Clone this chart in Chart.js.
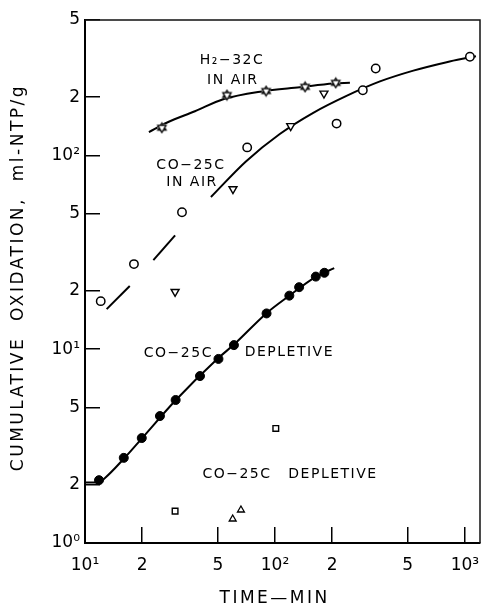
<!DOCTYPE html>
<html><head><meta charset="utf-8">
<script src="https://cdn.jsdelivr.net/npm/chart.js@4.4.1/dist/chart.umd.min.js"></script>
<style>html,body{margin:0;padding:0;background:#fff}canvas{display:block}</style>
</head><body>
<canvas id="c" width="486" height="607"></canvas>
<script>
// ---- tick values and labels ----
const xTicks = [10, 20, 50, 100, 200, 500, 1000];
const xTickLabels = ['10¹', '2', '5', '10²', '2', '5', '10³'];
const yTicks = [1, 2, 5, 10, 20, 50, 100, 200, 500];
const yTickLabels = ['10⁰', '2', '5', '10¹', '2', '5', '10²', '2', '5'];

// ---- CO-25C depletive (filled circles) ----
const depX = [11.85, 16.0, 19.9, 24.8, 30.0, 40.3, 50.4, 60.8, 90.3, 119, 134, 164, 182];
const depY = [2.11, 2.75, 3.48, 4.52, 5.47, 7.27, 8.91, 10.5, 15.3, 18.9, 20.9, 23.7, 24.8];
const depFitX = [10, 11.7, 12.7, 16, 20, 30, 50, 61, 90, 120, 160, 205];
const depFitY = [2.05, 2.05, 2.16, 2.72, 3.48, 5.45, 8.95, 10.6, 15.3, 19.0, 23.3, 26.2];

// ---- CO-25C depletive (open squares, open up-triangles) ----
const depSqX = [29.8, 101];
const depSqY = [1.46, 3.9];
const depTriX = [59.9, 66.2];
const depTriY = [1.33, 1.48];

// ---- CO-25C in air (open circles, open down-triangles) ----
const airCircX = [12.1, 18.1, 32.4, 71.4, 211, 290, 339, 1062];
const airCircY = [17.7, 27.5, 50.9, 110, 146, 217, 281, 323];
const airTriX = [29.8, 60.1, 121, 181];
const airTriY = [19.8, 67.1, 142, 209];
const airSeg1X = [13.0, 17.2];
const airSeg1Y = [16.1, 21.2];
const airSeg2X = [22.9, 29.8];
const airSeg2Y = [28.8, 38.7];
const airFitX = [46.0, 70.3, 106, 159, 238, 357, 535, 801, 1000, 1143];
const airFitY = [61.0, 93.1, 129, 166, 203, 241, 274, 303, 317, 325];

// ---- H2-32C in air (stars) ----
const h2X = [25.4, 55.9, 89.8, 144, 209];
const h2Y = [139, 205, 215, 226, 237];
const h2FitX = [21.7, 26.9, 37.9, 53.4, 85.1, 135, 203, 248];
const h2FitY = [132, 147.5, 169, 195, 214, 225, 235, 237];

// ---- annotation texts (anchored in data coordinates) ----
const noteText = ['H₂−32C', 'IN AIR', 'CO−25C', 'IN AIR', 'CO−25C', 'DEPLETIVE', 'CO−25C', 'DEPLETIVE'];
const noteX = [59.4, 60.0, 36.1, 36.6, 31.0, 119, 63.1, 202];
const noteY = [311, 245, 89.2, 72.9, 9.55, 9.67, 2.27, 2.27];

const pts = (xs, ys) => xs.map((x, i) => ({x: x, y: ys[i]}));
const FONT = '"DejaVu Sans", "Liberation Sans", Arial, sans-serif';

// hexagram marker
function makeStar() {
  const c = document.createElement('canvas');
  c.width = 13; c.height = 13;
  const g = c.getContext('2d');
  const cx = 6.5, cy = 6.5, r = 4.8;
  g.fillStyle = '#fff';
  g.strokeStyle = '#000';
  g.lineWidth = 1.3;
  g.beginPath(); g.arc(cx, cy, r * 0.9, 0, Math.PI * 2); g.fill();
  [[-90, 30, 150], [90, 210, 330]].forEach(a => {
    g.beginPath();
    a.forEach((d, i) => {
      const t = d * Math.PI / 180;
      const px = cx + r * Math.cos(t), py = cy + r * Math.sin(t);
      if (i === 0) g.moveTo(px, py); else g.lineTo(px, py);
    });
    g.closePath(); g.fill(); g.stroke();
  });
  return c;
}
const starImg = makeStar();

const curve = (data, extra) => Object.assign({
  data: data, showLine: true, pointRadius: 0, borderColor: '#000',
  borderWidth: 2, fill: false, order: 5
}, extra || {});

const datasets = [
  {data: pts(depX, depY), pointStyle: 'circle', pointRadius: 4.5, pointBackgroundColor: '#000', pointBorderColor: '#000', pointBorderWidth: 1, order: 1},
  {data: pts(depSqX, depSqY), pointStyle: 'rect', pointRadius: 4, pointBackgroundColor: '#fff', pointBorderColor: '#000', pointBorderWidth: 1.4, order: 1},
  {data: pts(depTriX, depTriY), pointStyle: 'triangle', pointRadius: 4, pointBackgroundColor: '#fff', pointBorderColor: '#000', pointBorderWidth: 1.3, order: 1},
  {data: pts(airCircX, airCircY), pointStyle: 'circle', pointRadius: 4.2, pointBackgroundColor: '#fff', pointBorderColor: '#000', pointBorderWidth: 1.5, order: 1},
  {data: pts(airTriX, airTriY), pointStyle: 'triangle', pointRotation: 180, pointRadius: 4.6, pointBackgroundColor: '#fff', pointBorderColor: '#000', pointBorderWidth: 1.4, order: 1},
  {data: pts(h2X, h2Y), pointStyle: starImg, pointRadius: 5, order: 1},
  curve(pts(depFitX, depFitY), {cubicInterpolationMode: 'monotone'}),
  curve(pts(airSeg1X, airSeg1Y)),
  curve(pts(airSeg2X, airSeg2Y)),
  curve(pts(airFitX, airFitY), {cubicInterpolationMode: 'monotone'}),
  curve(pts(h2FitX, h2FitY), {cubicInterpolationMode: 'monotone'})
];

// letter-spaced axis titles
function spaceTitle(s) {
  if (s._spaced) return;
  const orig = s.drawTitle;
  s.drawTitle = function () {
    const c = this.ctx;
    c.save();
    c.letterSpacing = '2.5px';
    orig.apply(this, arguments);
    c.restore();
  };
  s._spaced = true;
}

const notePlugin = {
  id: 'notes',
  afterDatasetsDraw(chart) {
    const ctx = chart.ctx, sx = chart.scales.x, sy = chart.scales.y, a = chart.chartArea;
    ctx.save();
    ctx.strokeStyle = '#111';
    ctx.lineWidth = 1.5;
    ctx.beginPath();
    ctx.moveTo(a.left, a.top);
    ctx.lineTo(a.right, a.top);
    ctx.lineTo(a.right, a.bottom);
    ctx.stroke();
    ctx.letterSpacing = '1.5px';
    ctx.font = '14px ' + FONT;
    ctx.fillStyle = '#000';
    ctx.textAlign = 'center';
    ctx.textBaseline = 'middle';
    noteText.forEach((t, i) => {
      ctx.fillText(t, sx.getPixelForValue(noteX[i]), sy.getPixelForValue(noteY[i]));
    });
    ctx.restore();
  }
};

new Chart(document.getElementById('c'), {
  type: 'scatter',
  data: {datasets: datasets},
  plugins: [notePlugin],
  options: {
    responsive: false,
    animation: false,
    devicePixelRatio: 1,
    events: [],
    layout: {padding: {top: 20, right: 6, left: 0, bottom: 0}},
    plugins: {legend: {display: false}, tooltip: {enabled: false}},
    scales: {
      x: {
        type: 'logarithmic', position: 'bottom', min: 10, max: 1200,
        afterBuildTicks: s => { s.ticks = xTicks.map(v => ({value: v})); },
        afterFit: s => { s.height = 64; s.paddingLeft = 0; s.paddingRight = 0; spaceTitle(s); },
        ticks: {
          autoSkip: false, maxRotation: 0, minRotation: 0, padding: 28, color: '#000',
          font: {family: FONT, size: 17},
          callback: v => xTickLabels[xTicks.indexOf(v)]
        },
        grid: {drawOnChartArea: false, drawTicks: true, tickLength: -16, color: '#000', lineWidth: 1.5},
        border: {display: true, color: '#000', width: 2},
        title: {display: true, text: 'TIME—MIN  ', color: '#000', font: {family: FONT, size: 17, lineHeight: 1}, padding: {top: 0, bottom: 0}}
      },
      y: {
        type: 'logarithmic', position: 'left', min: 1, max: 500,
        afterBuildTicks: s => { s.ticks = yTicks.map(v => ({value: v})); },
        afterFit: s => { s.width = 85; s.paddingTop = 0; s.paddingBottom = 0; spaceTitle(s); },
        ticks: {
          autoSkip: false, padding: 20, color: '#000',
          font: {family: FONT, size: 17},
          callback: v => yTickLabels[yTicks.indexOf(v)]
        },
        grid: {drawOnChartArea: false, drawTicks: true, tickLength: -15, color: '#000', lineWidth: 1.5},
        border: {display: true, color: '#000', width: 2},
        title: {display: true, text: ' CUMULATIVE  OXIDATION,  ml-NTP/g', color: '#000', font: {family: FONT, size: 17, lineHeight: 1.2}, padding: {top: 8, bottom: 0}}
      }
    }
  }
});
</script>
</body></html>
